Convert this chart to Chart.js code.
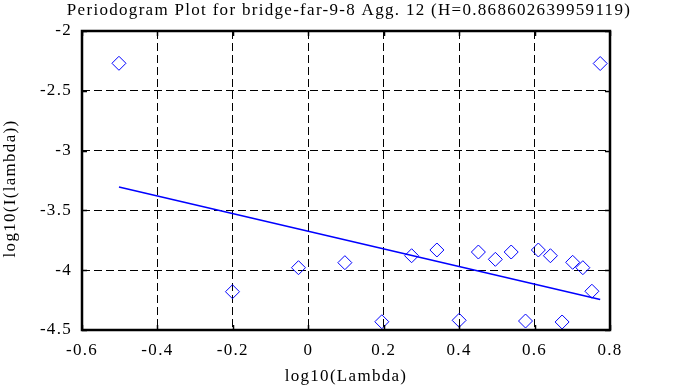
<!DOCTYPE html>
<html>
<head>
<meta charset="utf-8">
<script src="https://cdn.jsdelivr.net/npm/chart.js@4/dist/chart.umd.min.js"></script>
<style>
html,body{margin:0;padding:0;background:#fff;}
#wrap{width:678px;height:387px;}
</style>
</head>
<body>
<div id="wrap"><canvas id="c" width="678" height="387"></canvas></div>
<script>
// Data
const logLambda = [-0.502, -0.201, -0.026, 0.097, 0.195, 0.274, 0.341, 0.400, 0.451, 0.496, 0.538, 0.576, 0.610, 0.642, 0.673, 0.701, 0.728, 0.752, 0.774];
const logI      = [-2.270, -4.180, -3.979, -3.937, -4.431, -3.879, -3.831, -4.419, -3.848, -3.909, -3.848, -4.425, -3.831, -3.879, -4.433, -3.934, -3.979, -4.176, -2.272];
const fitX = [-0.502, 0.774];
const fitY = [-3.304, -4.245];
const xTicks = [-0.6, -0.4, -0.2, 0, 0.2, 0.4, 0.6, 0.8];
const xTickLabels = ["-0.6", "-0.4", "-0.2", "0", "0.2", "0.4", "0.6", "0.8"];
const yTicks = [-4.5, -4, -3.5, -3, -2.5, -2];
const yTickLabels = ["-4.5", "-4", "-3.5", "-3", "-2.5", "-2"];
const titleText = "Periodogram Plot for bridge-far-9-8 Agg. 12 (H=0.868602639959119)";
const xTitle = "log10(Lambda)";
const yTitle = "log10(I(lambda))";

const FONT = "'Liberation Serif', 'Times New Roman', serif";
const SPACING = '1.3px';

const spacingPlugin = {
  id: 'spacing',
  beforeLayout(chart) { chart.ctx.letterSpacing = SPACING; },
  afterLayout(chart) {
    const a = chart.chartArea;
    const tb = chart.titleBlock;
    if (tb) {
      tb.left = a.left - 42;
      tb.right = a.right + 48;
      tb.width = tb.right - tb.left;
    }
    const ys = chart.scales.y;
    if (ys && !ys._titleShifted) {
      const orig = ys.drawTitle;
      ys.drawTitle = function () {
        const t = this.top, b = this.bottom;
        this.top = t + 8; this.bottom = b + 8;
        orig.call(this);
        this.top = t; this.bottom = b;
      };
      ys._titleShifted = true;
    }
  },
  beforeDraw(chart) { chart.ctx.letterSpacing = SPACING; }
};

const framePlugin = {
  id: 'frame',
  afterDatasetsDraw(chart) {
    const {ctx, chartArea: a, scales: {x, y}} = chart;
    ctx.save();
    ctx.strokeStyle = '#000';
    ctx.lineWidth = 1.5;
    ctx.beginPath();
    xTicks.forEach(v => {
      const px = Math.round(x.getPixelForValue(v)) + 0.5;
      ctx.moveTo(px, a.bottom); ctx.lineTo(px, a.bottom - 5);
      ctx.moveTo(px, a.top); ctx.lineTo(px, a.top + 5);
    });
    yTicks.forEach(v => {
      const py = Math.round(y.getPixelForValue(v)) + 0.5;
      ctx.moveTo(a.left, py); ctx.lineTo(a.left + 5, py);
      ctx.moveTo(a.right, py); ctx.lineTo(a.right - 5, py);
    });
    ctx.stroke();
    ctx.lineWidth = 2.5;
    ctx.strokeRect(a.left, a.top, a.right - a.left, a.bottom - a.top);
    ctx.restore();
  }
};

new Chart(document.getElementById('c'), {
  type: 'scatter',
  data: {
    datasets: [
      {
        label: 'periodogram',
        data: logLambda.map((v, i) => ({x: v, y: logI[i]})),
        pointStyle: 'rectRot',
        pointRadius: 7,
        pointBorderWidth: 1,
        pointBorderColor: '#0000ff',
        pointBackgroundColor: 'rgba(0,0,0,0)',
        showLine: false
      },
      {
        label: 'fit',
        data: fitX.map((v, i) => ({x: v, y: fitY[i]})),
        showLine: true,
        borderColor: '#0000ff',
        borderWidth: 1.5,
        pointRadius: 0,
        fill: false
      }
    ]
  },
  options: {
    responsive: false,
    animation: false,
    layout: {padding: {left: 0, right: 68, top: 0, bottom: 0}},
    plugins: {
      legend: {display: false},
      tooltip: {enabled: false},
      title: {
        display: true,
        text: titleText,
        fullSize: false,
        color: '#000',
        font: {family: FONT, size: 17, weight: 'normal'},
        padding: {top: 0, bottom: 10.6}
      }
    },
    scales: {
      x: {
        type: 'linear',
        min: -0.6, max: 0.8,
        afterBuildTicks: s => { s.ticks = xTicks.map(v => ({value: v})); },
        afterFit: s => { s.height = 57; },
        ticks: {
          color: '#000',
          font: {family: FONT, size: 17},
          padding: 10,
          maxRotation: 0,
          callback: (v) => { const i = xTicks.findIndex(t => Math.abs(t - v) < 1e-9); return i >= 0 ? xTickLabels[i] : ''; }
        },
        grid: {color: '#000', lineWidth: 1, drawTicks: false},
        border: {display: false, dash: [8, 4]},
        title: {display: true, text: xTitle, color: '#000', font: {family: FONT, size: 17}, padding: {top: 0, bottom: 0}}
      },
      y: {
        type: 'linear',
        min: -4.5, max: -2,
        afterBuildTicks: s => { s.ticks = yTicks.map(v => ({value: v})); },
        afterFit: s => { s.width = 82; },
        ticks: {
          color: '#000',
          font: {family: FONT, size: 17},
          padding: 10,
          callback: (v) => { const i = yTicks.findIndex(t => Math.abs(t - v) < 1e-9); return i >= 0 ? yTickLabels[i] : ''; }
        },
        grid: {color: '#000', lineWidth: 1, drawTicks: false},
        border: {display: false, dash: [8, 4]},
        title: {display: true, text: yTitle, color: '#000', font: {family: FONT, size: 17}, padding: {top: 0, bottom: 0}}
      }
    }
  },
  plugins: [spacingPlugin, framePlugin]
});
</script>
</body>
</html>
